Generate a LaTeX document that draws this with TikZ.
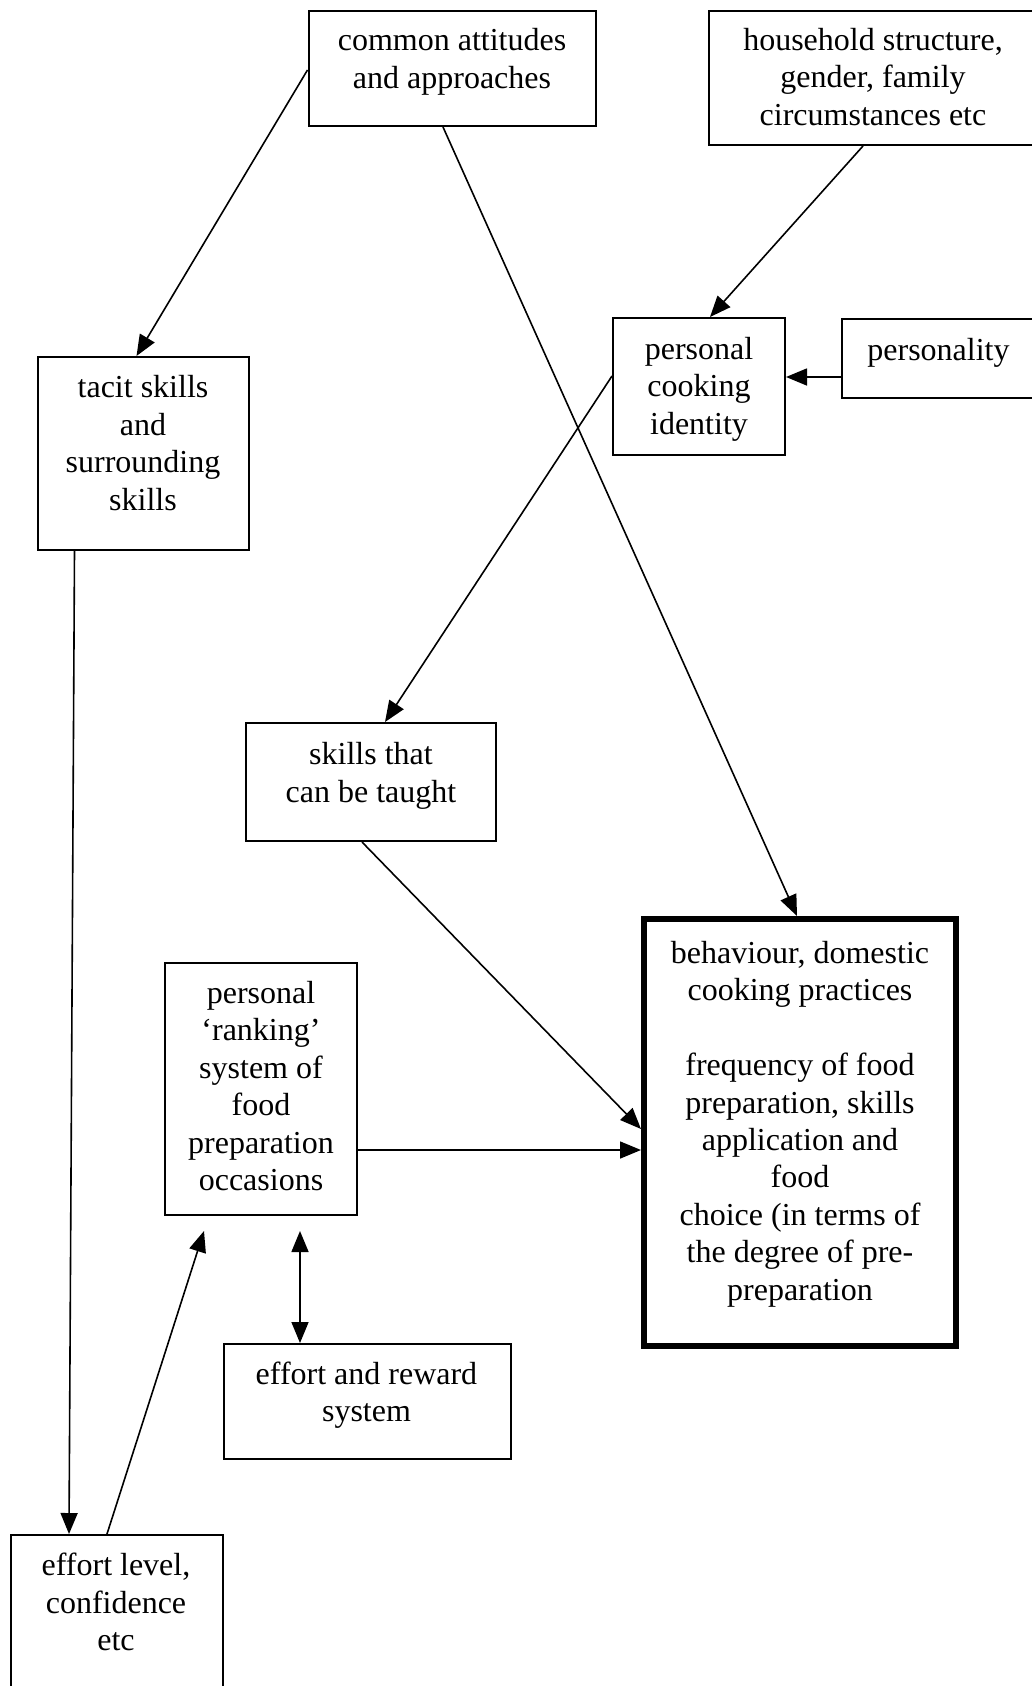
\documentclass[tikz,border=0pt]{standalone}
\usepackage{fontspec}
\setmainfont{Liberation Serif}
\usetikzlibrary{arrows.meta}

\begin{document}
\begin{tikzpicture}[x=1pt, y=-1pt,
  box/.style={draw, line width=2pt, rectangle, inner sep=0pt},
  mainbox/.style={draw, line width=6pt, rectangle, inner sep=0pt},
  lbl/.style={inner sep=0pt, align=center, font=\fontsize{32}{37.4}\selectfont},
  link/.style={line width=1.6pt, -{Triangle[length=21pt,width=17pt]}},
  both/.style={line width=1.6pt, {Triangle[length=21pt,width=17pt]}-{Triangle[length=21pt,width=17pt]}}]

\useasboundingbox (0,0) rectangle (1032,1686);
\clip (0,0) rectangle (1032,1686);

% boxes
\node[box, minimum width=287pt, minimum height=115pt] (common) at (452,68.5) {};
\node[box, minimum width=340pt, minimum height=134pt] (house) at (879,78) {};
\node[box, minimum width=211pt, minimum height=193pt] (tacit) at (143.5,453.5) {};
\node[box, minimum width=172pt, minimum height=137pt] (pci) at (699,386.5) {};
\node[box, minimum width=210pt, minimum height=79pt] (persy) at (947,358.5) {};
\node[box, minimum width=250pt, minimum height=118pt] (taught) at (371,782) {};
\node[mainbox, minimum width=312pt, minimum height=427pt] (behav) at (800,1132.5) {};
\node[box, minimum width=192pt, minimum height=252pt] (rank) at (261,1089) {};
\node[box, minimum width=287pt, minimum height=115pt] (reward) at (367.5,1401.5) {};
\node[box, minimum width=212pt, minimum height=170pt] (level) at (117,1620) {};

% texts
\node[lbl] (tcommon) at (452,62) {common attitudes\\and approaches};
\node[lbl] (thouse) at (873,77) {household structure,\\gender, family\\circumstances etc};
\node[lbl] (ttacit) at (143,443) {tacit skills\\and\\surrounding\\skills};
\node[lbl] (tpci) at (699,389) {personal\\cooking\\identity};
\node[lbl] (tpersy) at (938.5,352.5) {personality};
\node[lbl] (ttaught) at (371,776) {skills that\\can be taught};
\node[lbl] (tbehav) at (800,1124) {behaviour, domestic\\cooking practices\\[37.4pt]frequency of food\\preparation, skills\\application and\\food\\choice (in terms of\\the degree of pre-\\preparation};
\node[lbl] (trank) at (261,1086) {personal\\‘ranking’\\system of\\food\\preparation\\occasions};
\node[lbl] (treward) at (366.5,1395) {effort and reward\\system};
\node[lbl] (tlevel) at (116,1602) {effort level,\\confidence\\etc};

% free arrow ends below the ranking box
\coordinate (rankL) at (204,1231);
\coordinate (rankR) at (300,1231);

% connectors
\draw[link] (common.west |- 0,70) -- (136.5,0 |- tacit.north);
\draw[link] (443,0 |- common.south) -- (797,0 |- behav.north);
\draw[link] (863,0 |- house.south) -- (710,0 |- pci.north);
\draw[link] (persy.west |- 0,377) -- (pci.east |- 0,377);
\draw[link] (pci.west |- 0,376) -- (385,0 |- taught.north);
\draw[link] (362,0 |- taught.south) -- (behav.west |- 0,1129);
\draw[link] (rank.east |- 0,1150) -- (behav.west |- 0,1150);
\draw[link] (74.5,0 |- tacit.south) -- (69,0 |- level.north);
\draw[link] (107,0 |- level.north) -- (rankL);
\draw[both] (rankR) -- (300,0 |- reward.north);

\end{tikzpicture}
\end{document}
